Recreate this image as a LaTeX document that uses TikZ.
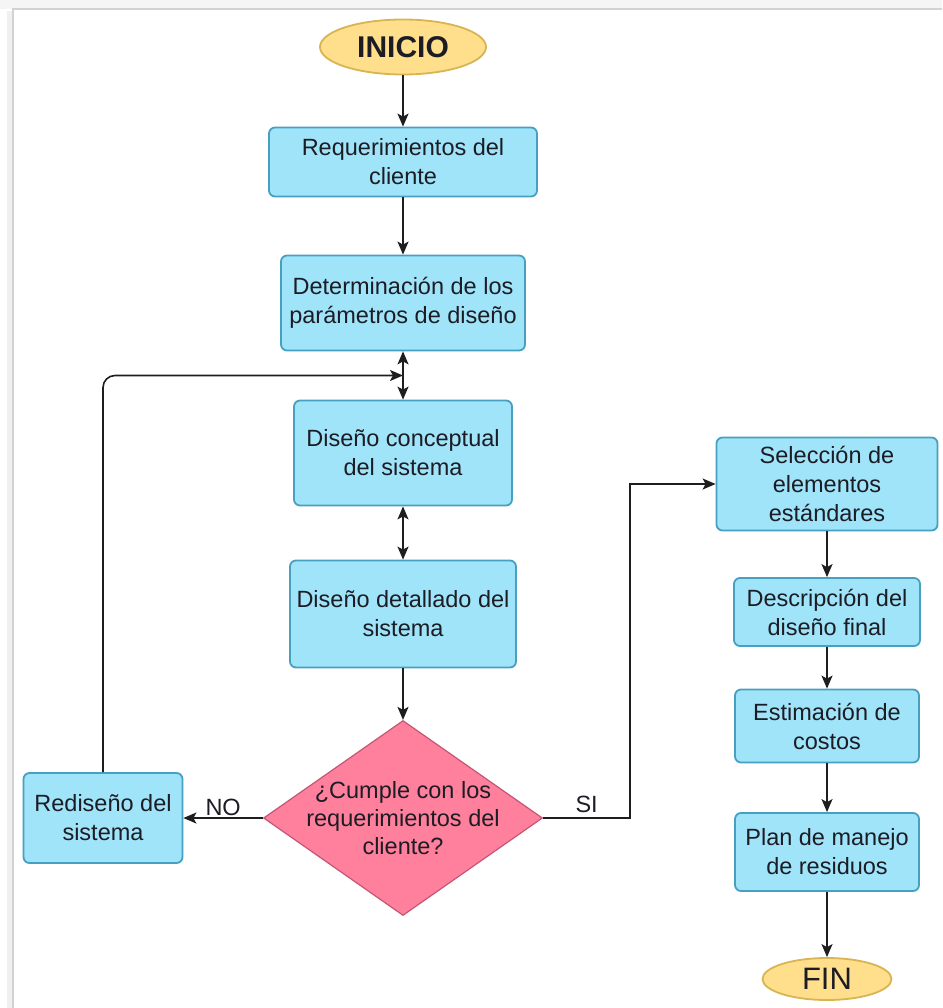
\documentclass[tikz,border=0pt]{standalone}
\usepackage{fontspec}
\setmainfont{Liberation Sans}
\usetikzlibrary{arrows.meta,shapes.geometric,positioning,calc}

\definecolor{cajafill}{RGB}{160,228,250}
\definecolor{cajaborde}{RGB}{72,160,192}
\definecolor{decfill}{RGB}{255,128,156}
\definecolor{decborde}{RGB}{196,86,116}
\definecolor{termfill}{RGB}{255,222,140}
\definecolor{termborde}{RGB}{216,180,82}
\definecolor{texto}{RGB}{28,28,36}
\definecolor{linea}{RGB}{30,30,30}

\begin{document}
\begin{tikzpicture}[x=1pt,y=-1pt,->,>={Stealth[length=13pt,width=11pt,inset=3pt]},
                    line width=1.6pt,draw=linea,
    proceso/.style={rectangle,rounded corners=6pt,draw=cajaborde,fill=cajafill,
                    line width=1.8pt,align=center,text=texto,inner sep=0pt,
                    font=\fontsize{23.5}{29}\selectfont},
    terminal/.style={ellipse,draw=termborde,fill=termfill,line width=1.8pt,
                    text=texto,inner sep=0pt},
    decision/.style={diamond,draw=decborde,fill=decfill,line width=1.2pt,inner sep=0pt},
    etiqueta/.style={font=\fontsize{23.5}{29}\selectfont,text=texto,anchor=south}]
	\useasboundingbox (0,0) rectangle (942,1008);
	% marco de la pagina
	\fill[gray!8] (0,0) rectangle (942,9);
	\draw[-,gray!12,line width=5pt] (9,1008) -- (9,11);
	\draw[-,gray!35,line width=1.5pt] (13,1008) -- (13,9) -- (942,9);

	% columna central
	\node[terminal,minimum width=166pt,minimum height=55pt,
	      font=\fontsize{30}{34}\selectfont\bfseries]		(inicio) at (403,47)	{INICIO};
	\node[proceso,minimum width=268pt,minimum height=69pt]	(req)	[below of=inicio,node distance=115pt]
		{Requerimientos del\\cliente};
	\node[proceso,minimum width=244pt,minimum height=95pt]	(det)	[below of=req,node distance=141pt]
		{Determinación de los\\parámetros de diseño};
	\node[proceso,minimum width=218pt,minimum height=105pt]	(conc)	[below of=det,node distance=150pt]
		{Diseño conceptual\\del sistema};
	\node[proceso,minimum width=226pt,minimum height=107pt]	(detl)	[below of=conc,node distance=161pt]
		{Diseño detallado del\\sistema};
	\node[decision,minimum width=279pt,minimum height=195pt,
	      label={[align=center,text=texto,font=\fontsize{23.5}{28}\selectfont]center:{¿Cumple con los\\requerimientos del\\cliente?}}]
	                                                        (dec)	[below of=detl,node distance=204pt]	{};
	\node[proceso,minimum width=159pt,minimum height=90pt]	(redis)	[left of=dec,node distance=300pt]
		{Rediseño del\\sistema};

	% columna derecha
	\node[proceso,minimum width=221pt,minimum height=93pt]	(sel)	at (827,484)
		{Selección de\\elementos\\estándares};
	\node[proceso,minimum width=186pt,minimum height=68pt]	(desc)	[below of=sel,node distance=128pt]
		{Descripción del\\diseño final};
	\node[proceso,minimum width=184pt,minimum height=73pt]	(est)	[below of=desc,node distance=114pt]
		{Estimación de\\costos};
	\node[proceso,minimum width=184pt,minimum height=78pt]	(plan)	[below of=est,node distance=126pt]
		{Plan de manejo\\de residuos};
	\node[terminal,minimum width=129pt,minimum height=42pt,
	      font=\fontsize{31}{34}\selectfont]			(fin)	[below of=plan,node distance=127pt]	{FIN};

	\coordinate (union) at ($(det.south)!0.5!(conc.north)$);

	\draw (inicio) -- (req);
	\draw (req) -- (det);
	\draw[<->] (det) -- (conc);
	\draw[<->] (conc) -- (detl);
	\draw (detl) -- (dec);
	\draw (dec.west) -- node[etiqueta,inner sep=1pt] {NO} (redis.east);
	\draw[rounded corners=12pt] (redis.north) |- (union);
	\draw (dec.east) -- node[etiqueta,inner sep=4pt] {SI} ($(dec.east)+(87,0)$) |- (sel.west);
	\draw (sel) -- (desc);
	\draw (desc) -- (est);
	\draw (est) -- (plan);
	\draw (plan) -- (fin);
\end{tikzpicture}
\end{document}
